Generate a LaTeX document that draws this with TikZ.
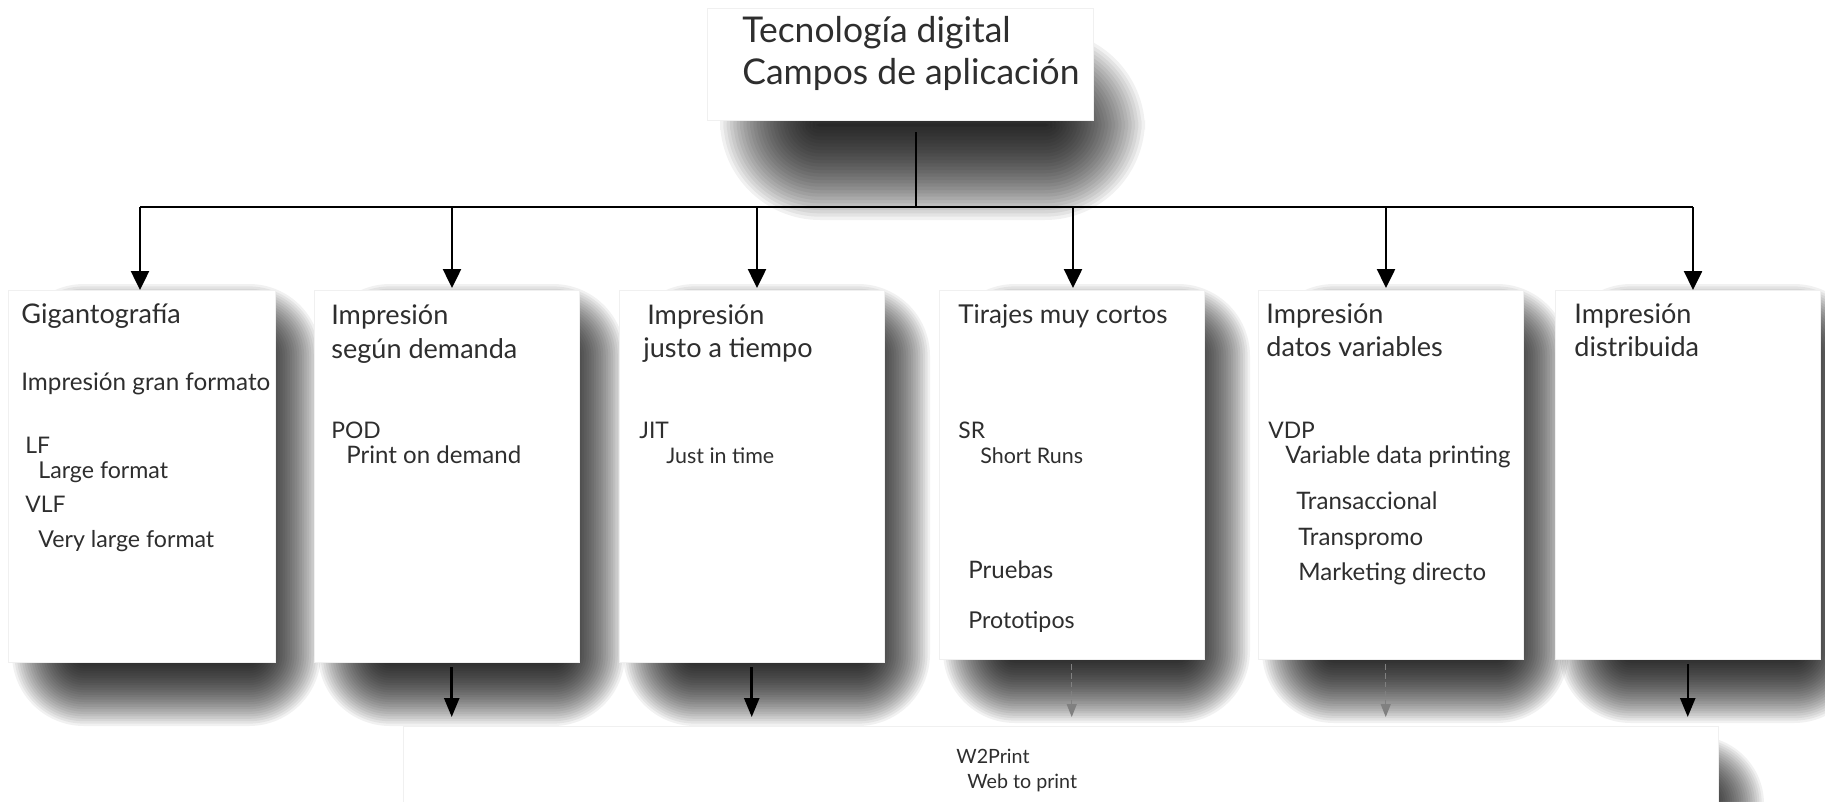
\documentclass[tikz,border=0pt]{standalone}
\usepackage{fontspec}
\setmainfont{Lato}
\usetikzlibrary{arrows.meta}
\newcommand\softshadow[5]{%
  \foreach \i in {0,...,29}{%
    \pgfmathsetmacro\dd{#5*(1-\i/15)}%
    \pgfmathsetmacro\rc{max(#5+\dd,0.5)*0.02}%
    \fill[black, opacity=0.054, rounded corners=\rc cm] ({#1-(\dd)},{#2-(\dd)}) rectangle ({#3+(\dd)},{#4+(\dd)});
  }%
}
\tikzset{
  box/.style={draw=black!6, line width=0.3pt, fill=white, rectangle, inner sep=0, anchor=north west},
  ln/.style={line width=0.05cm, black},
  arr/.style={ln, -{Triangle[length=0.38cm, width=0.36cm]}},
  arrb/.style={ln, -{Triangle[length=0.38cm, width=0.30cm]}},
  darr/.style={line width=0.6pt, gray, densely dashed, -{Triangle[length=0.26cm, width=0.2cm]}},
  t/.style={anchor=base west, inner sep=0, text=black!82},
  ftitle/.style={font=\fontsize{20.2}{24}\selectfont},
  fhead/.style={font=\fontsize{15.4}{18}\selectfont},
  fmid/.style={font=\fontsize{13.8}{16}\selectfont},
  fsub/.style={font=\fontsize{13.2}{15}\selectfont},
  fsubs/.style={font=\fontsize{12.2}{14}\selectfont},
  fsubl/.style={font=\fontsize{13.7}{16}\selectfont},
  fabb/.style={font=\fontsize{13}{15}\selectfont},
  fw/.style={font=\fontsize{11.2}{13}\selectfont},
}
\begin{document}
\begin{tikzpicture}[x=0.02cm, y=-0.02cm]
\useasboundingbox[fill=white] (0,0) rectangle (1825,801);
% shadows
\softshadow{770}{80}{1095}{170}{50}
\softshadow{48}{320}{285}{690}{36}
\softshadow{354}{320}{589}{690}{36}
\softshadow{659}{320}{894}{690}{36}
\softshadow{979}{320}{1214}{687}{36}
\softshadow{1298}{320}{1533}{687}{36}
\softshadow{1595}{320}{1830}{687}{36}
\softshadow{440}{770}{1730}{900}{34}
% boxes
\node[box, minimum width=7.72cm, minimum height=2.24cm] (top) at (707,8) {};
\node[box, minimum width=5.34cm, minimum height=7.44cm] (b1) at (8,290) {};
\node[box, minimum width=5.30cm, minimum height=7.44cm] (b2) at (314,290) {};
\node[box, minimum width=5.30cm, minimum height=7.44cm] (b3) at (619,290) {};
\node[box, minimum width=5.30cm, minimum height=7.38cm] (b4) at (939,290) {};
\node[box, minimum width=5.30cm, minimum height=7.38cm] (b5) at (1258,290) {};
\node[box, minimum width=5.30cm, minimum height=7.38cm] (b6) at (1555,290) {};
\node[box, minimum width=26.3cm, minimum height=2.4cm] (w2p) at (403,726) {};
% connectors
\coordinate (trunk) at (916,132);
\coordinate (bus) at (916,207);
\coordinate (busl) at (140,207);
\coordinate (busr) at (1693,207);
\draw[ln] (trunk) -- (bus);
\draw[ln] (busl) -- (busr);
\draw[arr] (busl) -- (busl |- b1.north);
\draw[arr] (452,207) -- (452,288);
\draw[arr] (757,207) -- (757,288);
\draw[arr] (1073,207) -- (1073,288);
\draw[arr] (1386,207) -- (1386,288);
\draw[arr] (busr) -- (busr |- b6.north);
\draw[arrb] ([xshift=0.1cm,yshift=-0.1cm]b2.south) -- ([xshift=0.1cm,yshift=0.18cm]b2.south |- w2p.north);
\draw[arrb] ([yshift=-0.1cm]b3.south) -- ([yshift=0.18cm]b3.south |- w2p.north);
\draw[darr] ([yshift=-0.1cm]b4.south) -- ([yshift=0.18cm]b4.south |- w2p.north);
\draw[darr] ([xshift=-0.1cm,yshift=-0.1cm]b5.south) -- ([xshift=-0.1cm,yshift=0.18cm]b5.south |- w2p.north);
\draw[arrb] ([yshift=-0.1cm]b6.south) -- ([yshift=0.18cm]b6.south |- w2p.north);
% texts
\node[t, ftitle] (tt1) at (742,42) {Tecnología digital};
\node[t, ftitle] (tt2) at (742,84) {Campos de aplicación};

\node[t, fhead] (a1) at (21,323) {Gigantografía};
\node[t, fmid] (a2) at (21,390) {Impresión gran formato};
\node[t, fabb] (a3) at (25,453) {LF};
\node[t, fsub] (a4) at (38,478) {Large format};
\node[t, fabb] (a5) at (25,512) {VLF};
\node[t, fsub] (a6) at (38,547) {Very large format};

\node[t, fhead] (c1) at (331,324) {Impresión};
\node[t, fhead] (c2) at (331,358) {según demanda};
\node[t, fabb] (c3) at (331,438) {POD};
\node[t, fsubl] (c4) at (346,463) {Print on demand};

\node[t, fhead] (d1) at (647,324) {Impresión};
\node[t, fhead] (d2) at (643,357) {justo a tiempo};
\node[t, fabb] (d3) at (639,438) {JIT};
\node[t, fsubs] (d4) at (666,463) {Just in time};

\node[t, font=\fontsize{14.8}{18}\selectfont] (e1) at (958,323) {Tirajes muy cortos};
\node[t, fabb] (e2) at (958,438) {SR};
\node[t, fsubs] (e3) at (980,463) {Short Runs};
\node[t, fsubl] (e4) at (968,578) {Pruebas};
\node[t, fsub] (e5) at (968,628) {Prototipos};

\node[t, fhead] (f1) at (1266,323) {Impresión};
\node[t, fhead] (f2) at (1266,356) {datos variables};
\node[t, fabb] (f3) at (1268,438) {VDP};
\node[t, fsubl] (f4) at (1285,463) {Variable data printing};
\node[t, fsubl] (f5) at (1296,509) {Transaccional};
\node[t, fsubl] (f6) at (1298,545) {Transpromo};
\node[t, fsubl] (f7) at (1298,580) {Marketing directo};

\node[t, fhead] (g1) at (1574,323) {Impresión};
\node[t, fhead] (g2) at (1574,356) {distribuida};

\node[t, fw] (h1) at (956,763) {W2Print};
\node[t, fw] (h2) at (967,788) {Web to print};
\end{tikzpicture}
\end{document}
